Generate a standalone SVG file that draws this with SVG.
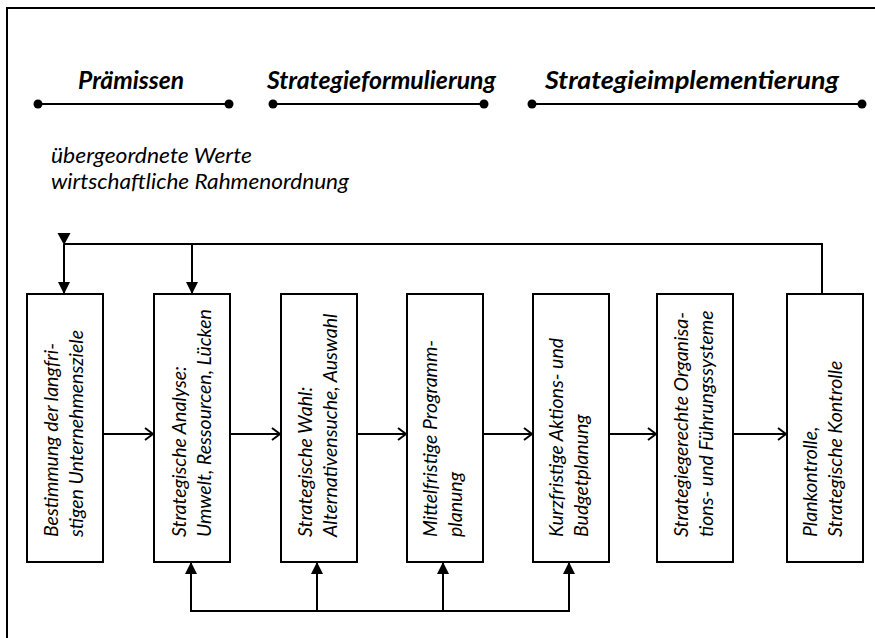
<svg xmlns="http://www.w3.org/2000/svg" width="875" height="638" viewBox="0 0 875 638">
<style>
.line{fill:none;stroke:#000;stroke-width:2}
.box{fill:#fff;stroke:#000;stroke-width:2}
.hdr{font-family:Lato,"Open Sans",sans-serif;font-style:italic;font-weight:bold;font-size:24.5px;fill:#000}
.note{font-family:Lato,"Open Sans",sans-serif;font-style:italic;font-size:21px;fill:#000}
.lbl{font-family:Lato,"Open Sans",sans-serif;font-style:italic;font-size:19.5px;fill:#000}
</style>
<defs>
<marker id="open" markerWidth="12" markerHeight="14" refX="10" refY="7" orient="auto" markerUnits="userSpaceOnUse">
<path d="M2,1 L10,7 L2,13" fill="none" stroke="#000" stroke-width="2"/>
</marker>
<marker id="solid" markerWidth="14" markerHeight="12" refX="11" refY="6" orient="auto" markerUnits="userSpaceOnUse">
<path d="M0,0 L12,6 L0,12 Z" fill="#000"/>
</marker>
</defs>
<rect width="875" height="638" fill="#fff"/>
<!-- frame -->
<path class="line" d="M7,638 V8 H875"/>
<!-- phase headers -->
<g id="phase-praemissen">
<text class="hdr" x="78" y="89" textLength="106" lengthAdjust="spacingAndGlyphs">Prämissen</text>
<path class="line" d="M38,104 H229"/>
<circle cx="38" cy="104" r="4.5"/><circle cx="229" cy="104" r="4.5"/>
</g>
<g id="phase-formulierung">
<text class="hdr" x="267" y="89" textLength="229" lengthAdjust="spacingAndGlyphs">Strategieformulierung</text>
<path class="line" d="M273,104 H484"/>
<circle cx="273" cy="104" r="4.5"/><circle cx="484" cy="104" r="4.5"/>
</g>
<g id="phase-implementierung">
<text class="hdr" x="545" y="89" textLength="294" lengthAdjust="spacingAndGlyphs">Strategieimplementierung</text>
<path class="line" d="M532,104 H862"/>
<circle cx="532" cy="104" r="4.5"/><circle cx="862" cy="104" r="4.5"/>
</g>
<g id="premises-note">
<text class="note" x="51" y="163" textLength="201" lengthAdjust="spacingAndGlyphs">übergeordnete Werte</text>
<text class="note" x="51" y="189" textLength="298" lengthAdjust="spacingAndGlyphs">wirtschaftliche Rahmenordnung</text>
</g>
<!-- nodes -->
<g id="n1">
<rect class="box" x="27" y="294" width="76" height="268"/>
<text class="lbl" transform="translate(58,537) rotate(-90)">Bestimmung der langfri-</text>
<text class="lbl" transform="translate(83,537) rotate(-90)">stigen Unternehmensziele</text>
</g>
<g id="n2">
<rect class="box" x="154" y="294" width="76" height="268"/>
<text class="lbl" transform="translate(186,537) rotate(-90)">Strategische Analyse:</text>
<text class="lbl" transform="translate(211,537) rotate(-90)">Umwelt, Ressourcen, Lücken</text>
</g>
<g id="n3">
<rect class="box" x="281" y="294" width="76" height="268"/>
<text class="lbl" transform="translate(312,537) rotate(-90)">Strategische Wahl:</text>
<text class="lbl" transform="translate(337,537) rotate(-90)">Alternativensuche, Auswahl</text>
</g>
<g id="n4">
<rect class="box" x="407" y="294" width="76" height="268"/>
<text class="lbl" transform="translate(437,537) rotate(-90)">Mittelfristige Programm-</text>
<text class="lbl" transform="translate(462,537) rotate(-90)">planung</text>
</g>
<g id="n5">
<rect class="box" x="533" y="294" width="76" height="268"/>
<text class="lbl" transform="translate(563,537) rotate(-90)">Kurzfristige Aktions- und</text>
<text class="lbl" transform="translate(588,537) rotate(-90)">Budgetplanung</text>
</g>
<g id="n6">
<rect class="box" x="657" y="294" width="76" height="268"/>
<text class="lbl" transform="translate(688,537) rotate(-90)">Strategiegerechte Organisa-</text>
<text class="lbl" transform="translate(713,537) rotate(-90)">tions- und Führungssysteme</text>
</g>
<g id="n7">
<rect class="box" x="787" y="294" width="76" height="268"/>
<text class="lbl" transform="translate(817,537) rotate(-90)">Plankontrolle,</text>
<text class="lbl" transform="translate(842,537) rotate(-90)">Strategische Kontrolle</text>
</g>
<!-- connectors -->
<g id="connectors">
<path class="line" d="M103,434 H153" marker-end="url(#open)"/>
<path class="line" d="M230,434 H280" marker-end="url(#open)"/>
<path class="line" d="M357,434 H406" marker-end="url(#open)"/>
<path class="line" d="M483,434 H532" marker-end="url(#open)"/>
<path class="line" d="M609,434 H656" marker-end="url(#open)"/>
<path class="line" d="M733,434 H786" marker-end="url(#open)"/>
<!-- top feedback loop -->
<path class="line" d="M822,294 V244 H64"/>
<path d="M57.5,233 L70.5,233 L64,245 Z" fill="#000"/>
<path class="line" d="M64,244 V293" marker-end="url(#solid)"/>
<path class="line" d="M192,244 V293" marker-end="url(#solid)"/>
<!-- bottom feedback loop -->
<path class="line" d="M191,611 H569"/>
<path class="line" d="M191,612 V563" marker-end="url(#solid)"/>
<path class="line" d="M317,611 V563" marker-end="url(#solid)"/>
<path class="line" d="M443,611 V563" marker-end="url(#solid)"/>
<path class="line" d="M569,612 V563" marker-end="url(#solid)"/>
</g>
</svg>
